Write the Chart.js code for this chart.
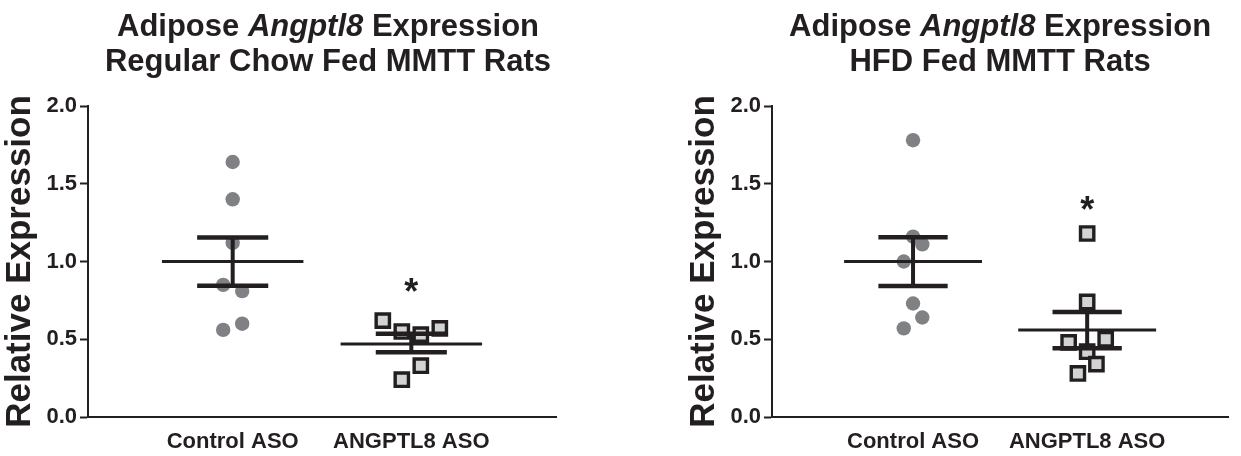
<!DOCTYPE html>
<html>
<head>
<meta charset="utf-8">
<script src="https://cdn.jsdelivr.net/npm/chart.js@4"></script>
<style>
  html, body { margin: 0; padding: 0; background: #ffffff; }
  #wrap { position: relative; width: 1241px; height: 456px; overflow: hidden; background: #fff; }
  canvas { position: absolute; top: 0; }
</style>
</head>
<body>
<div id="wrap">
  <canvas id="chartChow" width="570" height="456" style="left:0px"></canvas>
  <canvas id="chartHfd" width="557" height="456" style="left:684px"></canvas>
</div>
<script>
// ---------- DATA ----------
const categories = ['Control ASO', 'ANGPTL8 ASO'];
const yTicks = [0.0, 0.5, 1.0, 1.5, 2.0];
const yAxisTitle = 'Relative Expression';

// Regular chow fed
const chowTitle2 = 'Regular Chow Fed MMTT Rats';
const chowControl = [1.64, 1.40, 1.12, 0.85, 0.81, 0.60, 0.56];
const chowControlSlot = [0, 0, 0, -1, 1, 1, -1];
const chowAso = [0.62, 0.55, 0.53, 0.57, 0.33, 0.24];
const chowAsoSlot = [-3, -1, 1, 3, 1, -1];
const chowMean = [1.00, 0.47];
const chowSemLow = [0.844, 0.416];
const chowSemHigh = [1.155, 0.536];
const chowStarY = [null, 0.86];

// HFD fed
const hfdTitle2 = 'HFD Fed MMTT Rats';
const hfdControl = [1.78, 1.16, 1.11, 1.00, 0.73, 0.64, 0.57];
const hfdControlSlot = [0, 0, 1, -1, 0, 1, -1];
const hfdAso = [1.18, 0.74, 0.48, 0.50, 0.42, 0.34, 0.28];
const hfdAsoSlot = [0, 0, -2, 2, 0, 1, -1];
const hfdMean = [1.00, 0.56];
const hfdSemLow = [0.842, 0.442];
const hfdSemHigh = [1.156, 0.675];
const hfdStarY = [null, 1.39];

// ---------- STYLE ----------
const INK = '#231f20';
const FONT = '"Liberation Sans", Arial, Helvetica, sans-serif';
const SLOT = 0.0532;       // jitter step in x units
const MEAN_HALF = 0.396;   // half width of mean line
const CAP_HALF = 0.199;    // half width of SEM caps

const titlePlugin = {
  id: 'twoLineTitle',
  afterDraw(chart, args, opts) {
    const ctx = chart.ctx, ca = chart.chartArea;
    const cx = (ca.left + ca.right) / 2 + (opts.dx || 0);
    ctx.save();
    ctx.fillStyle = INK;
    ctx.textBaseline = 'alphabetic';
    opts.lines.forEach((segs, i) => {
      let total = 0;
      segs.forEach(s => {
        ctx.font = (s.italic ? 'italic ' : '') + 'bold 31px ' + FONT;
        s.w = ctx.measureText(s.text).width;
        total += s.w;
      });
      let x = cx - total / 2;
      segs.forEach(s => {
        ctx.font = (s.italic ? 'italic ' : '') + 'bold 31px ' + FONT;
        ctx.textAlign = 'left';
        ctx.fillText(s.text, x, opts.baselines[i]);
        x += s.w;
      });
    });
    ctx.restore();
  }
};

const starPlugin = {
  id: 'stars',
  afterDatasetsDraw(chart, args, opts) {
    const ctx = chart.ctx;
    const xs = chart.scales.x, ys = chart.scales.y;
    ctx.save();
    ctx.fillStyle = INK;
    ctx.font = 'bold 36px ' + FONT;
    ctx.textAlign = 'center';
    ctx.textBaseline = 'alphabetic';
    opts.starY.forEach((v, i) => {
      if (v === null) return;
      const px = xs.getPixelForValue(i + 1);
      const py = ys.getPixelForValue(v);
      ctx.fillText('*', px, py + 21);
    });
    ctx.restore();
  }
};

function lineDs(points, width) {
  return {
    type: 'scatter', data: points, showLine: true, pointRadius: 0,
    borderColor: INK, borderWidth: width, borderCapStyle: 'butt',
    order: 0, clip: false
  };
}

function buildChart(canvasId, title2, ctrl, ctrlSlot, aso, asoSlot, mean, lo, hi, starY, padRight, dx) {
  const datasets = [];
  datasets.push({
    type: 'scatter',
    data: ctrl.map((v, i) => ({ x: 1 + ctrlSlot[i] * SLOT, y: v })),
    pointStyle: 'circle', pointRadius: 7.2, pointBackgroundColor: '#808184',
    pointBorderWidth: 0, order: 1, clip: false
  });
  datasets.push({
    type: 'scatter',
    data: aso.map((v, i) => ({ x: 2 + asoSlot[i] * SLOT, y: v })),
    pointStyle: 'rect', pointRadius: 9.4, pointBackgroundColor: '#d1d3d4',
    pointBorderColor: INK, pointBorderWidth: 3.4, order: 1, clip: false
  });
  for (let g = 0; g < 2; g++) {
    const c = g + 1;
    datasets.push(lineDs([{ x: c - MEAN_HALF, y: mean[g] }, { x: c + MEAN_HALF, y: mean[g] }], 3));
    datasets.push(lineDs([{ x: c - CAP_HALF, y: hi[g] }, { x: c + CAP_HALF, y: hi[g] }], 4.5));
    datasets.push(lineDs([{ x: c - CAP_HALF, y: lo[g] }, { x: c + CAP_HALF, y: lo[g] }], 4.5));
    datasets.push(lineDs([{ x: c, y: lo[g] }, { x: c, y: hi[g] }], 4));
  }

  return new Chart(document.getElementById(canvasId), {
    type: 'scatter',
    data: { datasets },
    options: {
      responsive: false,
      animation: false,
      devicePixelRatio: 1,
      layout: { padding: { top: 106, left: 0, right: padRight, bottom: 0 } },
      plugins: {
        legend: { display: false },
        tooltip: { enabled: false },
        twoLineTitle: {
          dx: dx,
          baselines: [36, 71],
          lines: [
            [{ text: 'Adipose ' }, { text: 'Angptl8', italic: true }, { text: ' Expression' }],
            [{ text: title2 }]
          ]
        },
        stars: { starY: starY }
      },
      scales: {
        x: {
          type: 'linear', min: 0.19, max: 2.81,
          afterBuildTicks: (axis) => { axis.ticks = categories.map((c, i) => ({ value: i + 1 })); },
          afterFit: (axis) => { axis.height = 39; },
          ticks: {
            callback: (v) => categories[Math.round(v) - 1] || '',
            font: { family: FONT, size: 22, weight: 'bold' },
            color: INK, padding: 12, maxRotation: 0, autoSkip: false
          },
          grid: { display: true, drawOnChartArea: false, drawTicks: false },
          border: { display: true, color: INK, width: 2 }
        },
        y: {
          type: 'linear', min: 0, max: 2,
          afterBuildTicks: (axis) => { axis.ticks = yTicks.map(v => ({ value: v })); },
          afterFit: (axis) => { axis.width = 88; },
          ticks: {
            callback: (v) => Number(v).toFixed(1),
            font: { family: FONT, size: 22, weight: 'bold' },
            color: INK, padding: 3
          },
          grid: { display: true, drawOnChartArea: false, drawTicks: true, tickLength: 8, tickWidth: 2, tickColor: INK },
          border: { display: true, color: INK, width: 2 },
          title: {
            display: true, text: yAxisTitle, color: INK,
            font: { family: FONT, size: 35, weight: 'bold', lineHeight: 1.15 },
            padding: { top: 0, bottom: 0 }
          }
        }
      }
    },
    plugins: [titlePlugin, starPlugin]
  });
}

buildChart('chartChow', chowTitle2, chowControl, chowControlSlot, chowAso, chowAsoSlot,
  chowMean, chowSemLow, chowSemHigh, chowStarY, 14, 6);
buildChart('chartHfd', hfdTitle2, hfdControl, hfdControlSlot, hfdAso, hfdAsoSlot,
  hfdMean, hfdSemLow, hfdSemHigh, hfdStarY, 2, 0);
</script>
</body>
</html>
